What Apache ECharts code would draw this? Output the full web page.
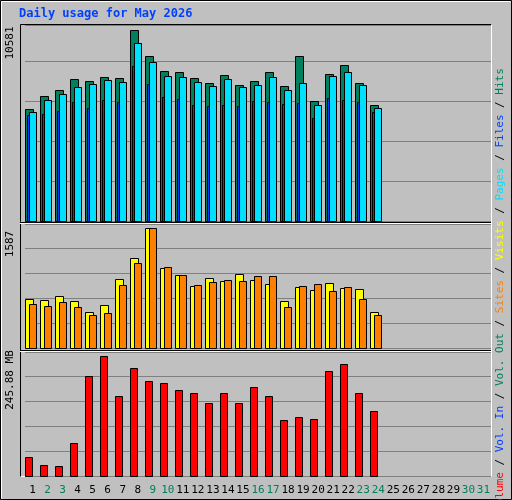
<!DOCTYPE html>
<html><head><meta charset="utf-8">
<script src="https://cdn.jsdelivr.net/npm/echarts@6/dist/echarts.min.js"></script>
<style>html,body{margin:0;padding:0;background:#c0c0c0}#c{width:512px;height:500px}</style>
</head><body><div id="c"></div>
<script>
const days = Array.from({length:31},(_,i)=>String(i+1));
const weekendDays = [2,3,9,10,16,17,23,24,30,31];
const hits  = [6206,6926,7259,7868,7757,7979,7924,10581,9143,8312,8256,7924,7647,8090,7536,7757,8256,7480,9143,6649,8145,8644,7647,6428];
const files = [6040,6705,7037,7425,7591,7813,7702,9863,8810,8034,7979,7702,7480,7868,7425,7536,7979,7259,7647,6428,8034,8256,7536,6261];
const pages = [5873,5929,6095,6594,6261,6705,6594,8589,7591,6871,6760,6428,6372,6428,6372,6649,6594,6483,6538,5707,6815,6705,6594,6040];
const visits= [648,635,688,622,476,569,913,1191,1587,1058,966,820,926,886,979,900,847,622,807,767,860,794,781,476];
const sites = [582,556,609,542,437,463,833,1125,1587,1072,966,833,873,900,886,953,953,542,820,847,754,807,648,437];
const volume= [39.8,23.4,21.3,66.6,204.7,245.88,163.5,221.1,194.4,190.2,175.8,169.6,149.0,169.6,149.0,182.0,163.5,114.0,120.2,116.1,215.0,229.4,169.6,132.6];

const FONT = 'DejaVu Sans Mono';
function pairs(arr){ return arr.map((v,i)=>[i,v]); }
function barSeries(data, gi, l, r, color){
  return {type:'custom', xAxisIndex:gi, yAxisIndex:gi, data:pairs(data), z:(10+l),
    renderItem:(p,api)=>{
      const top = api.coord([api.value(0), api.value(1)]);
      const base = api.coord([api.value(0), 0]);
      const x = Math.round(top[0]) + l;
      return {type:'rect', shape:{x:x+0.5, y:Math.round(top[1])+0.5, width:r-l, height:Math.round(base[1]-top[1])},
        style:{fill:color, stroke:'#000', lineWidth:1}};
    }};
}
const grids = [
  {left:25, right:21, top:25, height:196},
  {left:25, right:21, top:224, height:124},
  {left:25, right:21, top:352, height:124}
];
const maxes = [10581*196/191, 1587*124/120, 245.88*124/120];
const intervals = [maxes[0]*40/196, maxes[1]*25/124, maxes[2]*25/124];
const rich = {n:{color:'#000',fontFamily:FONT,fontSize:11}, w:{color:'#00805c',fontFamily:FONT,fontSize:11}};
const option = {
  backgroundColor:'#c0c0c0', animation:false,
  grid: grids,
  xAxis: grids.map((g,i)=>({type:'category', gridIndex:i, data:days, boundaryGap:true,
    axisLine:{show:false}, axisTick:{show:false}, splitLine:{show:false},
    axisLabel:{show:i===2, interval:0, margin:9, formatter:v=>weekendDays.includes(+v)?'{w|'+v+'}':'{n|'+v+'}', rich}})),
  yAxis: grids.map((g,i)=>({type:'value', gridIndex:i, min:0, max:maxes[i], interval:intervals[i],
    axisLabel:{show:false}, axisLine:{show:false}, axisTick:{show:false},
    splitLine:{lineStyle:{color:'#808080', width:1}}})),
  series: [
    barSeries(hits,0,-8,0,'#00805c'),
    barSeries(files,0,-4,3,'#00e0ff'),
    barSeries(pages,0,-6,-4,'#0040ff'),
    barSeries(visits,1,-8,0,'#ffff00'),
    barSeries(sites,1,-4,3,'#ff8000'),
    barSeries(volume,2,-8,-1,'#ff0000')
  ],
  graphic: [
    {type:'rect', shape:{x:0.5,y:0.5,width:511,height:499}, style:{fill:null, stroke:'#000'}, z:-1},
    {type:'polyline', shape:{points:[[1.5,498.5],[1.5,1.5],[510.5,1.5]]}, style:{fill:null, stroke:'#fff'}},
    {type:'polyline', shape:{points:[[20.5,221.5],[20.5,24.5],[491.5,24.5]]}, style:{fill:null, stroke:'#000'}},
    {type:'polyline', shape:{points:[[491.5,24.5],[491.5,476.5],[20.5,476.5]]}, style:{fill:null, stroke:'#fff'}},
    {type:'polyline', shape:{points:[[20.5,476.5],[20.5,221.5]]}, style:{fill:null, stroke:'#000'}},
    {type:'line', shape:{x1:20,y1:222.5,x2:491,y2:222.5}, style:{stroke:'#000'}},
    {type:'line', shape:{x1:20,y1:223.5,x2:491,y2:223.5}, style:{stroke:'#fff'}},
    {type:'line', shape:{x1:20,y1:350.5,x2:491,y2:350.5}, style:{stroke:'#000'}},
    {type:'line', shape:{x1:20,y1:351.5,x2:491,y2:351.5}, style:{stroke:'#fff'}},
    {type:'text', left:19, top:8, style:{text:'Daily usage for May 2026', fill:'#0040ff', font:'bold 12px "DejaVu Sans Mono"'}},
    {type:'text', x:10, y:43, rotation:Math.PI/2, style:{text:'10581', fill:'#000', font:'11px "DejaVu Sans Mono"', align:'center', verticalAlign:'middle'}},
    {type:'text', x:10, y:244, rotation:Math.PI/2, style:{text:'1587', fill:'#000', font:'11px "DejaVu Sans Mono"', align:'center', verticalAlign:'middle'}},
    {type:'text', x:10, y:380, rotation:Math.PI/2, style:{text:'245.88 MB', fill:'#000', font:'11px "DejaVu Sans Mono"', align:'center', verticalAlign:'middle'}},
    {type:'text', x:500, y:290, rotation:Math.PI/2, style:{
      text:'{r|Volume}{k| / }{b|Vol. In}{k| / }{g|Vol. Out}{k| / }{o|Sites}{k| / }{y|Visits}{k| / }{c|Pages}{k| / }{b|Files}{k| / }{g|Hits}',
      align:'center', verticalAlign:'middle', font:'11px "DejaVu Sans Mono"',
      rich:{r:{fill:'#ff0000'},b:{fill:'#0040ff'},g:{fill:'#00805c'},o:{fill:'#ff8000'},y:{fill:'#ffff00'},c:{fill:'#00e0ff'},k:{fill:'#000'}}}}
  ]
};
echarts.init(document.getElementById('c')).setOption(option);
</script></body></html>
